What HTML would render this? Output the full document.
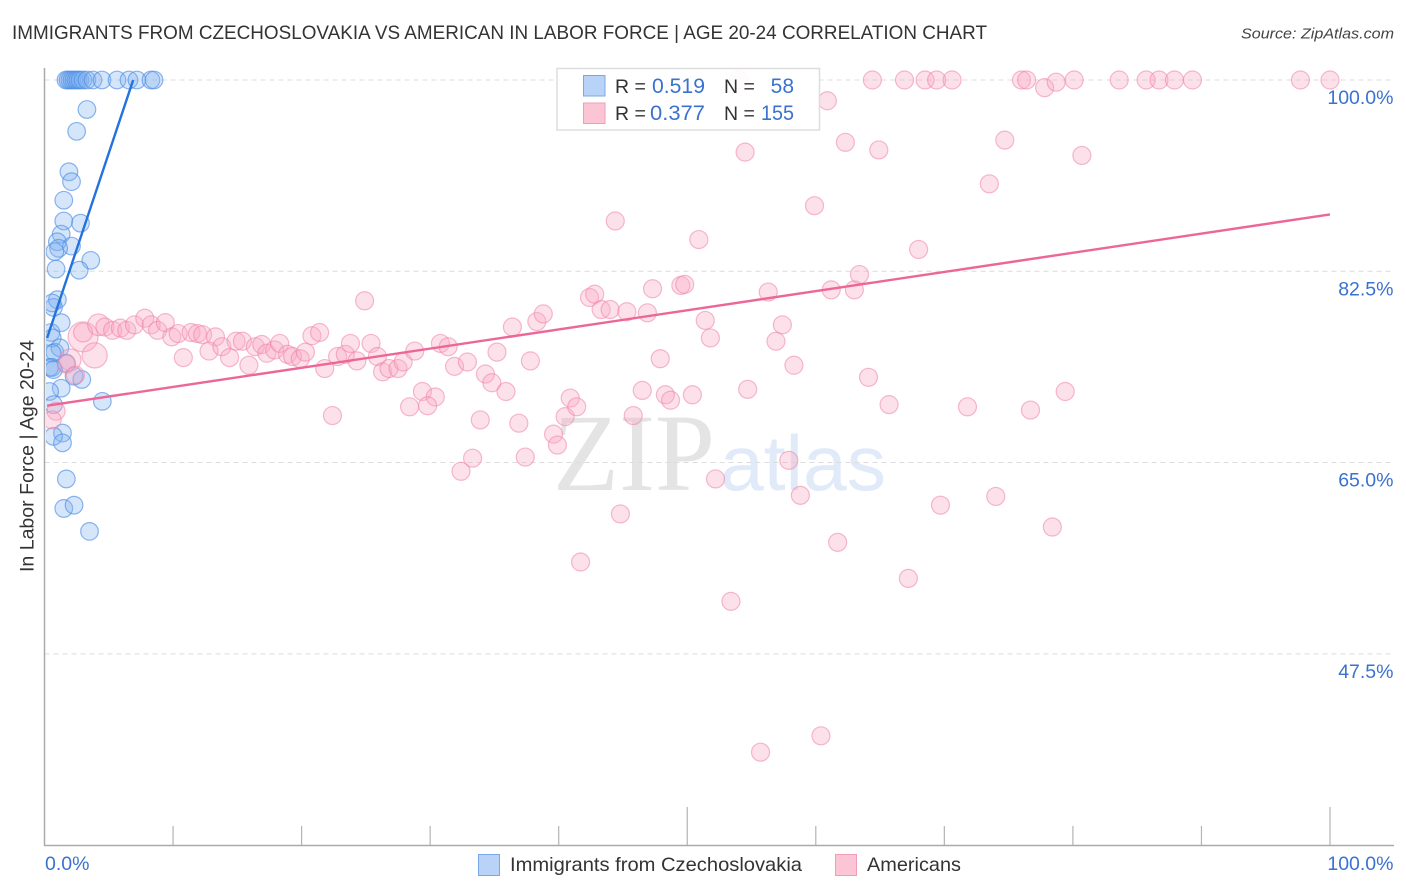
<!DOCTYPE html>
<html lang="en">
<head>
<meta charset="utf-8">
<title>Immigrants from Czechoslovakia vs American in Labor Force | Age 20-24 Correlation Chart</title>
<style>
html,body{margin:0;padding:0;background:#fff;}
svg{display:block;font-family:"Liberation Sans",sans-serif;}
</style>
</head>
<body>
<svg id="chart" width="1406" height="892" viewBox="0 0 1406 892" xmlns="http://www.w3.org/2000/svg">
  <defs>
    <clipPath id="plotClip"><rect x="46" y="60" width="1360" height="786"/></clipPath>
  </defs>
  <rect x="0" y="0" width="1406" height="892" fill="#ffffff"/>
  <text x="12" y="39" font-size="19.5" fill="#333333" textLength="975" lengthAdjust="spacingAndGlyphs">IMMIGRANTS FROM CZECHOSLOVAKIA VS AMERICAN IN LABOR FORCE | AGE 20-24 CORRELATION CHART</text>
  <text x="1394" y="38.5" font-size="15" font-style="italic" fill="#444444" text-anchor="end" textLength="153" lengthAdjust="spacingAndGlyphs">Source: ZipAtlas.com</text>

  <g>
    <text x="553" y="490" font-family="'Liberation Serif',serif" font-size="110" fill="#e4e4e4" textLength="162" lengthAdjust="spacingAndGlyphs">ZIP</text>
    <text x="720" y="490" font-size="78" fill="#e0eaf8" textLength="166" lengthAdjust="spacingAndGlyphs">atlas</text>
  </g>

  <g id="grid"></g>
  <g id="axes"></g>
  <g id="bluePoints" clip-path="url(#plotClip)"></g>
  <g id="pinkPoints" clip-path="url(#plotClip)"></g>
  <g id="trendLines"></g>
  <g id="tickLabels"></g>

  <text transform="translate(33.5,456) rotate(-90)" font-size="19" fill="#333333" text-anchor="middle" textLength="232" lengthAdjust="spacingAndGlyphs">In Labor Force | Age 20-24</text>

  <g>
    <rect x="557" y="68.5" width="262.5" height="61.5" fill="#ffffff" fill-opacity="0.9" stroke="#dddddd" stroke-width="1.5"/>
    <rect x="583.5" y="75.5" width="21.5" height="20.5" fill="#b9d3f8" stroke="#7aa8e6" stroke-width="1"/>
    <rect x="583.5" y="103" width="21.5" height="20.5" fill="#fcc5d6" stroke="#ef9db9" stroke-width="1"/>
    <text x="615" y="93" font-size="19.5" fill="#333333">R =</text>
    <text x="705" y="93" font-size="21" fill="#3a72cf" text-anchor="end" textLength="53" lengthAdjust="spacingAndGlyphs">0.519</text>
    <text x="724" y="93" font-size="19.5" fill="#333333">N =</text>
    <text x="794" y="93" font-size="21" fill="#3a72cf" text-anchor="end">58</text>
    <text x="615" y="120" font-size="19.5" fill="#333333">R =</text>
    <text x="705" y="120" font-size="21" fill="#3a72cf" text-anchor="end" textLength="55" lengthAdjust="spacingAndGlyphs">0.377</text>
    <text x="724" y="120" font-size="19.5" fill="#333333">N =</text>
    <text x="794" y="120" font-size="21" fill="#3a72cf" text-anchor="end" textLength="33" lengthAdjust="spacingAndGlyphs">155</text>
  </g>

  <g>
    <rect x="478.5" y="854.5" width="21" height="21" fill="#b9d3f8" stroke="#7aa8e6" stroke-width="1"/>
    <text x="510" y="871" font-size="19.5" fill="#333333" textLength="292" lengthAdjust="spacingAndGlyphs">Immigrants from Czechoslovakia</text>
    <rect x="835.5" y="854.5" width="21" height="21" fill="#fcc5d6" stroke="#ef9db9" stroke-width="1"/>
    <text x="867" y="871" font-size="19.5" fill="#333333" textLength="94" lengthAdjust="spacingAndGlyphs">Americans</text>
  </g>
</svg>

<script>
const immigrantsX = [1.67,1.83,1.98,2.14,2.29,2.45,2.60,2.76,2.99,3.30,3.77,4.47,5.64,6.57,7.19,8.28,8.52,
  3.3,2.5,1.9,2.1,1.5,1.5,2.8,1.3,1.0,2.1,1.1,0.8,3.6,2.7,0.9,1.0,0.7,0.6,1.3,0.5,0.6,0.8,1.2,0.6,1.7,0.6,0.4,0.7,2.3,2.9,1.3,0.4,0.7,4.5,1.4,0.7,1.4,1.7,1.5,2.3,3.5];
const immigrantsY = [100,100,100,100,100,100,100,100,100,100,100,100,100,100,100,100,100,
  97.3,95.3,91.6,90.7,89.0,87.1,86.9,85.9,85.2,84.8,84.6,84.3,83.5,82.6,82.7,79.9,79.2,79.6,77.8,76.9,76.4,75.1,75.5,75.0,74.1,73.7,73.7,73.5,72.9,72.6,71.8,71.5,70.3,70.6,67.7,67.4,66.8,63.5,60.8,61.1,58.7];

const americansX = [3.0,3.0,3.9,2.0,4.2,4.7,5.3,5.9,6.4,7.0,7.8,8.3,8.8,9.4,9.9,10.4,10.8,11.4,11.9,12.3,13.3,12.8,13.8,14.4,14.9,15.4,15.9,16.4,16.9,17.3,17.9,18.3,18.9,19.3,19.9,20.3,20.8,21.4,21.8,24.9,22.4,22.8,23.4,23.8,24.3,25.4,25.9,26.3,26.8,27.5,27.9,28.8,30.8,31.4,31.9,32.9,36.4,38.3,38.8,35.2,37.8,34.3,34.8,35.9,29.4,30.4,29.8,28.4,33.9,36.9,39.6,39.9,40.5,40.9,41.4,37.4,33.3,32.4,0.9,0.6,1.7,2.4,
  44.4,42.4,42.8,43.3,44.0,45.3,46.9,47.3,49.5,49.8,51.4,51.8,47.9,46.5,48.3,48.7,50.4,45.8,52.2,44.8,41.7,53.4,55.7,60.4,61.7,58.8,57.9,67.2,69.7,74.0,78.4,54.7,58.3,56.9,57.4,56.3,61.2,63.0,63.4,68.0,50.9,59.9,64.1,65.7,71.8,76.7,79.4,73.5,74.7,80.7,77.8,54.5,60.9,62.3,64.9,
  54.0,64.4,66.9,68.5,69.4,70.6,76.0,76.4,78.7,80.1,83.6,85.7,86.7,87.9,89.3,97.7,100];
const americansY = [76.5,76.9,74.8,74.4,77.6,77.4,77.1,77.3,77.1,77.6,78.2,77.6,77.1,77.8,76.5,76.8,74.6,76.9,76.8,76.7,76.5,75.2,75.6,74.6,76.1,76.1,73.9,75.6,75.8,75.0,75.3,75.9,74.9,74.7,74.5,75.1,76.6,76.9,73.6,79.8,69.3,74.7,74.9,75.9,74.3,75.9,74.7,73.3,73.6,73.6,74.2,75.2,75.9,75.6,73.8,74.2,77.4,77.9,78.6,75.1,74.3,73.1,72.3,71.5,71.5,71.0,70.2,70.1,68.9,68.6,67.6,66.6,69.2,70.9,70.1,65.5,65.4,64.2,69.7,68.9,74.0,73.0,
  87.1,80.1,80.4,79.0,79.0,78.8,78.7,80.9,81.2,81.3,78.0,76.4,74.5,71.6,71.2,70.7,71.2,69.3,63.5,60.3,55.9,52.3,38.5,40.0,57.7,62.0,65.2,54.4,61.1,61.9,59.1,71.7,73.9,76.1,77.6,80.6,80.8,80.8,82.2,84.5,85.4,88.5,72.8,70.3,70.1,69.8,71.5,90.5,94.5,93.1,99.3,93.4,98.1,94.3,93.6,
  100,100,100,100,100,100,100,100,99.8,100,100,100,100,100,100,100,100];
const americansWeight = [1.67,1.05,1.4,1.2,1.2];

const immigrantsTrendX = [0.2,6.9];
const immigrantsTrendY = [76.4,100];
const americansTrendX = [0.2,100];
const americansTrendY = [70.2,87.7];

const yTickValues = [100,82.5,65,47.5];
const yTickLabels = ["100.0%","82.5%","65.0%","47.5%"];
const xTickValues = [10,20,30,40,50,60,70,80,90,100];
const xMajorTicks = [50,100];
const xEndLabels = ["0.0%","100.0%"];

function xScale(v){ return 44.5 + v * 12.855; }
function yScale(v){ return 80 + (100 - v) * 10.93; }

const SVGNS = "http://www.w3.org/2000/svg";
function make(tag, attrs, parent){
  const el = document.createElementNS(SVGNS, tag);
  for (const k in attrs) el.setAttribute(k, attrs[k]);
  parent.appendChild(el);
  return el;
}

const grid = document.getElementById("grid");
yTickValues.forEach(function(v){
  const el = make("line", {x1:44.5, x2:1394, y1:yScale(v), y2:yScale(v), stroke:"#dcdcdc", "stroke-width":1, "stroke-dasharray":"5 4"}, grid);
  
  
});

const axes = document.getElementById("axes");
const yAxis = make("line", {x1:44.5, x2:44.5, y1:68, y2:845.5, stroke:"#aaaaaa", "stroke-width":1.5}, axes);


const xAxis = make("line", {x1:44, x2:1394, y1:845.5, y2:845.5, stroke:"#aaaaaa", "stroke-width":1.5}, axes);


xTickValues.forEach(function(v){
  const top = xMajorTicks.indexOf(v) >= 0 ? 807 : 826;
  const el = make("line", {x1:xScale(v), x2:xScale(v), y1:top, y2:845, stroke:"#b4b4b4", "stroke-width":1.2}, axes);
  
  
});

const blueGroup = document.getElementById("bluePoints");
immigrantsX.forEach(function(x, i){
  const c = make("circle", {cx:xScale(x), cy:yScale(immigrantsY[i]), r:8.8, fill:"#7fb0f0", "fill-opacity":0.32, stroke:"#4f8fe6", "stroke-opacity":0.65, "stroke-width":1.2}, blueGroup);
  
  
});

const pinkGroup = document.getElementById("pinkPoints");
americansX.forEach(function(x, i){
  const w = americansWeight[i] || 1;
  const c = make("circle", {cx:xScale(x), cy:yScale(americansY[i]), r:9*w, fill:"#f9a8c2", "fill-opacity":0.35, stroke:"#ee82a6", "stroke-opacity":0.55, "stroke-width":1.2}, pinkGroup);
  
  
});

const trends = document.getElementById("trendLines");
const blueLine = make("line", {x1:xScale(immigrantsTrendX[0]), y1:yScale(immigrantsTrendY[0]), x2:xScale(immigrantsTrendX[1]), y2:yScale(immigrantsTrendY[1]), stroke:"#2272e0", "stroke-width":2.4}, trends);


const pinkLine = make("line", {x1:xScale(americansTrendX[0]), y1:yScale(americansTrendY[0]), x2:xScale(americansTrendX[1]), y2:yScale(americansTrendY[1]), stroke:"#ec6798", "stroke-width":2.4}, trends);



const labels = document.getElementById("tickLabels");
yTickValues.forEach(function(v, i){
  const t = make("text", {x:1393.5, y:yScale(v) + 24, "font-size":19.5, fill:"#3a72cf", "text-anchor":"end"}, labels);
  t.textContent = yTickLabels[i];
  
  
});
const x0Label = make("text", {x:45, y:870, "font-size":19.5, fill:"#3a72cf"}, labels);
x0Label.textContent = xEndLabels[0];


const x1Label = make("text", {x:1393.5, y:870, "font-size":19.5, fill:"#3a72cf", "text-anchor":"end"}, labels);
x1Label.textContent = xEndLabels[1];


</script>
</body>
</html>
